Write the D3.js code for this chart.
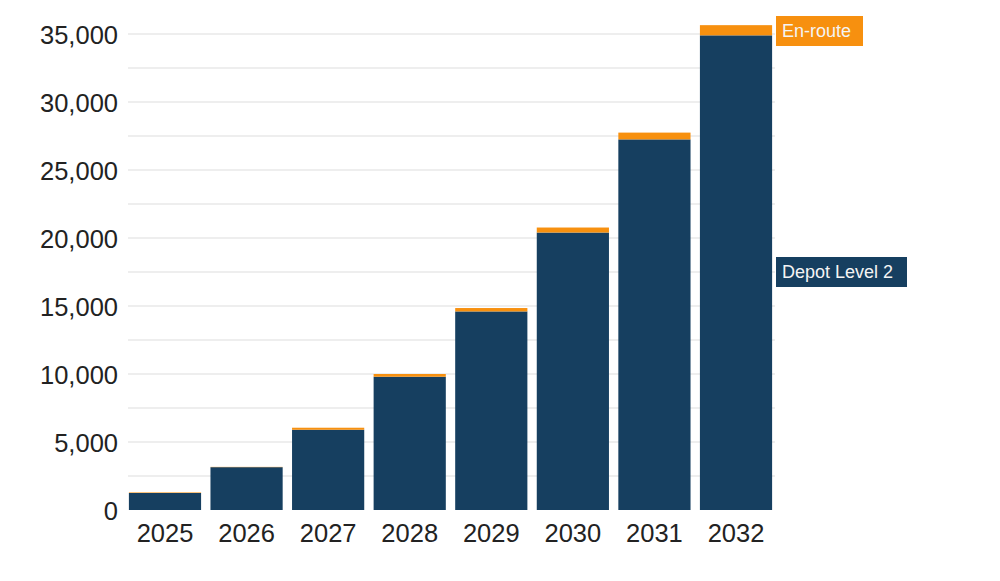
<!DOCTYPE html>
<html><head><meta charset="utf-8">
<script src="https://cdn.jsdelivr.net/npm/d3@7"></script>
<style>body{margin:0;background:#fff}svg{display:block;font-family:"Liberation Sans",Arial,sans-serif}</style>
</head><body>
<svg id="c" width="1000" height="581"></svg>
<script>
const years = ["2025","2026","2027","2028","2029","2030","2031","2032"];
const depotLevel2 = [1250, 3150, 5900, 9800, 14600, 20400, 27250, 34900];
const enRoute = [40, 20, 150, 200, 250, 370, 500, 750];
const yTicks = [0, 5000, 10000, 15000, 20000, 25000, 30000, 35000];
const gridValues = [2500, 5000, 7500, 10000, 12500, 15000, 17500, 20000, 22500, 25000, 27500, 30000, 32500, 35000];

const svg = d3.select("#c");
const x = d3.scaleBand().domain(years).range([124, 777]).paddingInner(0.115).paddingOuter(0.06);
const y = d3.scaleLinear().domain([0, 35000]).range([510, 34]);

// gridlines
svg.append("g").selectAll("line").data(gridValues).join("line")
  .attr("x1", 128).attr("x2", 775)
  .attr("y1", d => y(d)).attr("y2", d => y(d))
  .attr("stroke", "#e9e9e9").attr("stroke-width", 1.3);

// y axis
const yAxis = d3.axisLeft(y).tickValues(yTicks).tickFormat(d3.format(",")).tickSize(0).tickPadding(10);
const ga = svg.append("g").attr("transform", "translate(118,0)").call(yAxis);
ga.select(".domain").remove();
ga.selectAll("text").attr("font-size", 25.5).attr("fill", "#222").attr("font-family", "Liberation Sans, Arial, sans-serif").attr("dy", "0.36em").attr("x", 0);

// x axis
const xAxis = d3.axisBottom(x).tickSize(0).tickPadding(12);
const gx = svg.append("g").attr("transform", "translate(0,510)").call(xAxis);
gx.select(".domain").remove();
gx.selectAll("text").attr("font-size", 25.5).attr("fill", "#222").attr("font-family", "Liberation Sans, Arial, sans-serif")
  .attr("dy", null).attr("y", 32);

// bars
const data = years.map((yr, i) => ({yr, d: depotLevel2[i], e: enRoute[i]}));
svg.append("g").selectAll("rect").data(data).join("rect")
  .attr("x", d => x(d.yr)).attr("width", x.bandwidth())
  .attr("y", d => y(d.d)).attr("height", d => y(0) - y(d.d))
  .attr("fill", "#163f60");
svg.append("g").selectAll("rect").data(data).join("rect")
  .attr("x", d => x(d.yr)).attr("width", x.bandwidth())
  .attr("y", d => y(d.d + d.e)).attr("height", d => y(d.d) - y(d.d + d.e))
  .attr("fill", "#f7900f");

// legend labels
function label(text, x0, yc, w, fill) {
  svg.append("rect").attr("x", x0).attr("y", yc - 15).attr("width", w).attr("height", 30).attr("fill", fill);
  svg.append("text").attr("x", x0 + 6).attr("y", yc).attr("dy", "0.36em")
    .attr("font-size", 18).attr("fill", "#f4f4f4").text(text);
}
label("En-route", 776, 31, 87, "#f7900f");
label("Depot Level 2", 776, 272, 131, "#163f60");
</script>
</body></html>
